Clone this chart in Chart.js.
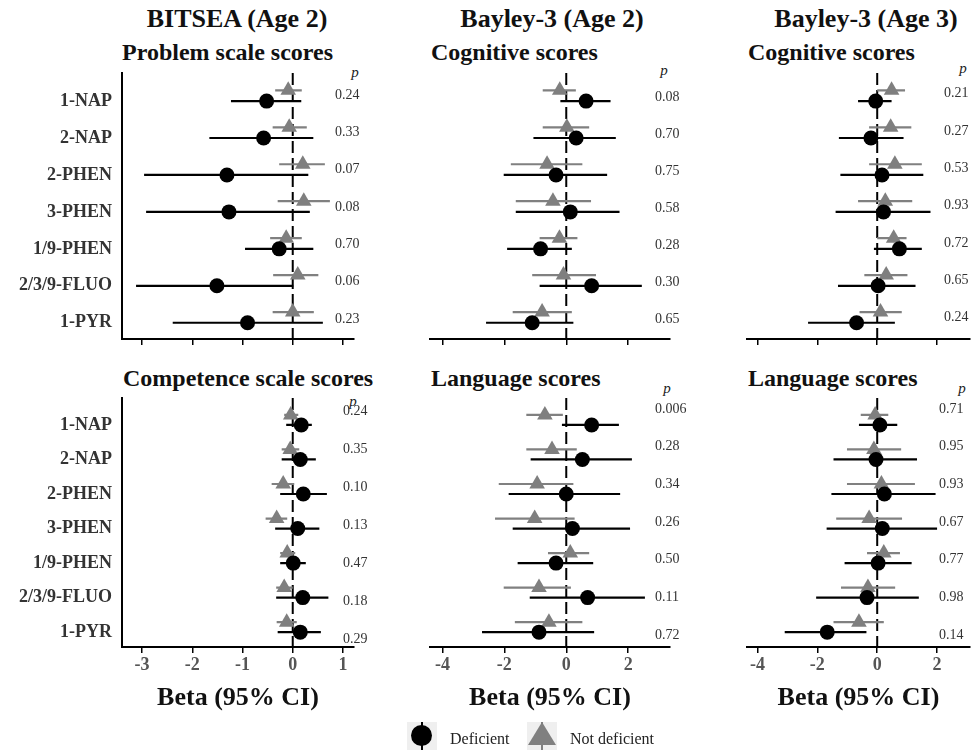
<!DOCTYPE html>
<html>
<head>
<meta charset="utf-8">
<script src="https://cdn.jsdelivr.net/npm/chart.js@4.4.1/dist/chart.umd.min.js"></script>
<style>
  html, body { margin:0; padding:0; background:#fff; }
  body { width:979px; height:752px; overflow:hidden; position:relative; font-family:"Liberation Serif","Times New Roman",serif; }
  canvas.c { position:absolute; left:0; top:0; }
  .h { position:absolute; font-weight:bold; font-size:26px; line-height:26px; white-space:nowrap; color:#111; transform:translateX(-50%); }
  .s { position:absolute; font-weight:bold; font-size:24px; line-height:24px; white-space:nowrap; color:#111; }
  .ph { position:absolute; font-style:italic; font-size:15px; line-height:15px; color:#222; transform:translate(-50%,-50%); }
  .lg { position:absolute; font-size:16px; line-height:16px; color:#222; white-space:nowrap; }
  .abs { position:absolute; }
</style>
</head>
<body>
<div class="h" style="left:237px;top:6px">BITSEA (Age 2)</div>
<div class="h" style="left:552px;top:6px">Bayley-3 (Age 2)</div>
<div class="h" style="left:866px;top:6px">Bayley-3 (Age 3)</div>

<div class="s" style="left:122px;top:40px">Problem scale scores</div>
<div class="s" style="left:431px;top:40px">Cognitive scores</div>
<div class="s" style="left:748px;top:40px">Cognitive scores</div>
<div class="s" style="left:123px;top:366px">Competence scale scores</div>
<div class="s" style="left:431px;top:366px">Language scores</div>
<div class="s" style="left:748px;top:366px">Language scores</div>

<div class="ph" style="left:355px;top:72px">p</div>
<div class="ph" style="left:664px;top:70px">p</div>
<div class="ph" style="left:963px;top:68px">p</div>
<div class="ph" style="left:353px;top:401px">p</div>
<div class="ph" style="left:667px;top:388px">p</div>
<div class="ph" style="left:962px;top:388px">p</div>

<canvas class="c" id="c1" width="979" height="752"></canvas>
<canvas class="c" id="c2" width="979" height="752"></canvas>
<canvas class="c" id="c3" width="979" height="752"></canvas>
<canvas class="c" id="c4" width="979" height="752"></canvas>
<canvas class="c" id="c5" width="979" height="752"></canvas>
<canvas class="c" id="c6" width="979" height="752"></canvas>

<!-- legend -->
<div class="abs" style="left:407px;top:722px;width:30px;height:28px;background:#efefef"></div>
<div class="abs" style="left:421px;top:722px;width:2px;height:28px;background:#000"></div>
<div class="abs" style="left:411px;top:725px;width:21px;height:21px;border-radius:50%;background:#000"></div>
<div class="lg" style="left:450px;top:731px">Deficient</div>
<div class="abs" style="left:527px;top:722px;width:30px;height:28px;background:#efefef"></div>
<div class="abs" style="left:541px;top:722px;width:2px;height:28px;background:#808080"></div>
<div class="abs" style="left:528px;top:722px;width:0;height:0;border-left:14px solid transparent;border-right:14px solid transparent;border-bottom:23px solid #808080"></div>
<div class="lg" style="left:570px;top:731px">Not deficient</div>

<script>
// ---------------- DATA ----------------
const categories = ['1-NAP','2-NAP','2-PHEN','3-PHEN','1/9-PHEN','2/3/9-FLUO','1-PYR'];

// BITSEA (Age 2) - Problem scale scores
const probDef   = [-0.52,-0.58,-1.31,-1.27,-0.27,-1.51,-0.90];
const probDefLo = [-1.23,-1.66,-2.96,-2.92,-0.95,-3.12,-2.39];
const probDefHi = [ 0.17, 0.41, 0.31, 0.34, 0.41, 0.01, 0.60];
const probNd    = [-0.09,-0.07, 0.20, 0.22,-0.13, 0.10, 0.00];
const probNdLo  = [-0.35,-0.40,-0.27,-0.30,-0.45,-0.39,-0.40];
const probNdHi  = [ 0.18, 0.28, 0.64, 0.74, 0.18, 0.51, 0.42];
const probP     = ['0.24','0.33','0.07','0.08','0.70','0.06','0.23'];

// Bayley-3 (Age 2) - Cognitive scores
const cog2Def   = [ 0.64, 0.32,-0.33, 0.13,-0.83, 0.82,-1.10];
const cog2DefLo = [-0.19,-1.06,-2.02,-1.63,-1.91,-0.86,-2.59];
const cog2DefHi = [ 1.43, 1.60, 1.32, 1.72, 0.18, 2.44, 0.23];
const cog2Nd    = [-0.21, 0.02,-0.62,-0.43,-0.22,-0.09,-0.78];
const cog2NdLo  = [-0.76,-0.76,-1.79,-1.63,-0.86,-1.10,-1.73];
const cog2NdHi  = [ 0.31, 0.74, 0.52, 0.80, 0.36, 0.96, 0.18];
const cog2P     = ['0.08','0.70','0.75','0.58','0.28','0.30','0.65'];

// Bayley-3 (Age 3) - Cognitive scores
const cog3Def   = [-0.05,-0.21, 0.16, 0.21, 0.74, 0.03,-0.69];
const cog3DefLo = [-0.64,-1.28,-1.23,-1.39,-0.11,-1.31,-2.31];
const cog3DefHi = [ 0.48, 0.88, 1.54, 1.78, 1.49, 1.28, 0.59];
const cog3Nd    = [ 0.48, 0.45, 0.59, 0.27, 0.55, 0.30, 0.11];
const cog3NdLo  = [ 0.00,-0.27,-0.27,-0.64, 0.00,-0.43,-0.59];
const cog3NdHi  = [ 0.93, 1.14, 1.49, 1.17, 0.98, 1.01, 0.82];
const cog3P     = ['0.21','0.27','0.53','0.93','0.72','0.65','0.24'];

// BITSEA (Age 2) - Competence scale scores
const compDef   = [ 0.17, 0.15, 0.21, 0.10, 0.01, 0.20, 0.15];
const compDefLo = [-0.13,-0.22,-0.25,-0.35,-0.25,-0.33,-0.30];
const compDefHi = [ 0.38, 0.46, 0.68, 0.53, 0.26, 0.71, 0.56];
const compNd    = [-0.04,-0.05,-0.19,-0.32,-0.11,-0.17,-0.12];
const compNdLo  = [-0.17,-0.22,-0.42,-0.54,-0.25,-0.33,-0.32];
const compNdHi  = [ 0.11, 0.13, 0.03,-0.11, 0.05, 0.00, 0.08];
const compP     = ['0.24','0.35','0.10','0.13','0.47','0.18','0.29'];

// Bayley-3 (Age 2) - Language scores
const lang2Def   = [ 0.82, 0.52, 0.00, 0.20,-0.33, 0.69,-0.88];
const lang2DefLo = [-0.14,-1.15,-1.86,-1.73,-1.57,-1.18,-2.72];
const lang2DefHi = [ 1.70, 2.12, 1.74, 2.06, 0.87, 2.54, 0.90];
const lang2Nd    = [-0.69,-0.46,-0.94,-1.02, 0.13,-0.88,-0.56];
const lang2NdLo  = [-1.29,-1.29,-2.18,-2.30,-0.59,-2.02,-1.66];
const lang2NdHi  = [-0.11, 0.34, 0.23, 0.27, 0.74, 0.15, 0.52];
const lang2P     = ['0.006','0.28','0.34','0.26','0.50','0.11','0.72'];

// Bayley-3 (Age 3) - Language scores
const lang3Def   = [ 0.09,-0.04, 0.24, 0.17, 0.03,-0.34,-1.67];
const lang3DefLo = [-0.61,-1.46,-1.53,-1.69,-1.09,-2.04,-3.09];
const lang3DefHi = [ 0.67, 1.33, 1.95, 2.00, 1.15, 1.39,-0.36];
const lang3Nd    = [-0.07,-0.11, 0.14,-0.27, 0.22,-0.31,-0.61];
const lang3NdLo  = [-0.55,-1.01,-1.01,-1.37,-0.34,-1.21,-1.46];
const lang3NdHi  = [ 0.37, 0.80, 1.26, 0.83, 0.76, 0.60, 0.22];
const lang3P     = ['0.71','0.95','0.93','0.67','0.77','0.98','0.14'];

const ticksBitsea = [-3,-2,-1,0,1];
const ticksBayley = [-4,-2,0,2];

// ---------------- RENDER ----------------
const FONT = '"Liberation Serif", "Times New Roman", serif';
const ND_SHIFT = 0.29;   // vertical offset of the "not deficient" row (style)

const pvalPlugin = {
  id: 'pvals',
  afterDraw(chart, args, o) {
    if (!o || !o.labels) return;
    const {ctx, chartArea} = chart;
    const y = chart.scales.y;
    ctx.save();
    ctx.font = '14px ' + FONT;
    ctx.fillStyle = '#333';
    ctx.textAlign = 'left';
    ctx.textBaseline = 'middle';
    o.labels.forEach((t, i) => {
      ctx.fillText(t, chartArea.right + o.dx, y.getPixelForValue(i + 1 + o.a + o.b * i));
    });
    ctx.restore();
  }
};

function ciData(lo, hi, shift) {
  const out = [];
  lo.forEach((l, i) => {
    out.push({x: l, y: i + 1 - shift});
    out.push({x: hi[i], y: i + 1 - shift});
    out.push({x: NaN, y: NaN});
  });
  return out;
}
function ptData(v, shift) { return v.map((x, i) => ({x, y: i + 1 - shift})); }

function makePanel(id, c) {
  const W = 979, H = 752;
  const xH = c.xLabels ? 67 : 20;
  const yMin = c.yMin, yMax = c.yMax;
  new Chart(document.getElementById(id), {
    type: 'scatter',
    data: {
      datasets: [
        { data: ptData(c.def, 0), pointStyle: 'circle', pointRadius: 7.5, pointBackgroundColor: '#000', pointBorderWidth: 0, order: 0 },
        { data: ptData(c.nd, ND_SHIFT), pointStyle: 'triangle', pointRadius: 9, pointBackgroundColor: '#7f7f7f', pointBorderWidth: 0, order: 1 },
        { data: ciData(c.defLo, c.defHi, 0), showLine: true, spanGaps: false, borderColor: '#000', borderWidth: 2.2, pointRadius: 0, order: 2 },
        { data: ciData(c.ndLo, c.ndHi, ND_SHIFT), showLine: true, spanGaps: false, borderColor: '#808080', borderWidth: 2.2, pointRadius: 0, order: 3 },
        { data: [{x: 0, y: yMin}, {x: 0, y: yMax}], showLine: true, borderColor: '#000', borderWidth: 2, borderDash: [12, 5], pointRadius: 0, order: 4 }
      ]
    },
    plugins: [pvalPlugin],
    options: {
      responsive: false, animation: false, events: [], devicePixelRatio: 1,
      layout: { padding: { left: c.yLabels ? 0 : c.left, right: W - c.right, top: c.top, bottom: H - c.bottom - xH } },
      plugins: {
        legend: { display: false }, tooltip: { enabled: false },
        pvals: { labels: c.p, dx: c.pdx, a: c.pa, b: c.pb }
      },
      scales: {
        x: {
          type: 'linear', min: c.xMin, max: c.xMax,
          afterBuildTicks: s => { s.ticks = c.ticks.map(v => ({value: v})); },
          afterFit: s => { s.height = xH; },
          grid: { drawOnChartArea: false, drawTicks: true, tickLength: 6, color: '#000', lineWidth: 1.5 },
          border: { display: true, color: '#000', width: 2 },
          ticks: { autoSkip: false, maxRotation: 0, padding: 2,
                   color: c.xLabels ? '#555' : 'rgba(0,0,0,0)',
                   font: { family: FONT, size: 18, weight: 'bold' },
                   callback: v => String(v) },
          title: { display: c.xLabels, text: 'Beta (95% CI)', color: '#111',
                   font: { family: FONT, size: 26, weight: 'bold' }, padding: { top: 0, bottom: 0 } }
        },
        y: {
          type: 'linear', reverse: true, min: yMin, max: yMax, display: c.yLabels,
          afterBuildTicks: s => { s.ticks = categories.map((_, i) => ({value: i + 1})); },
          afterFit: s => { if (c.yLabels) s.width = c.left; },
          grid: { drawOnChartArea: false, drawTicks: false },
          border: { display: true, color: '#000', width: 2 },
          ticks: { autoSkip: false, padding: 10, color: '#333',
                   font: { family: FONT, size: 18, weight: 'bold' },
                   callback: v => categories[Math.round(v) - 1] }
        }
      }
    }
  });
}

const TOP = { top: 73, bottom: 339, yMin: 0.24, yMax: 7.44, xLabels: false };
const BOT = { top: 398, bottom: 647, yMin: 0.22, yMax: 7.43, xLabels: true };
const P1 = { left: 122, right: 354, xMin: -3.4, xMax: 1.22, ticks: ticksBitsea, yLabels: true };
const P2 = { left: 430, right: 670, xMin: -4.4, xMax: 3.35, ticks: ticksBayley, yLabels: false };
const P3 = { left: 747, right: 979, xMin: -4.35, xMax: 3.1, ticks: ticksBayley, yLabels: false };

makePanel('c1', Object.assign({}, TOP, P1, { def: probDef, defLo: probDefLo, defHi: probDefHi, nd: probNd, ndLo: probNdLo, ndHi: probNdHi, p: probP, pdx: -19, pa: -0.16, pb: 0.01 }));
makePanel('c2', Object.assign({}, TOP, P2, { def: cog2Def, defLo: cog2DefLo, defHi: cog2DefHi, nd: cog2Nd, ndLo: cog2NdLo, ndHi: cog2NdHi, p: cog2P, pdx: -15, pa: -0.1, pb: 0 }));
makePanel('c3', Object.assign({}, TOP, P3, { def: cog3Def, defLo: cog3DefLo, defHi: cog3DefHi, nd: cog3Nd, ndLo: cog3NdLo, ndHi: cog3NdHi, p: cog3P, pdx: -26, pa: -0.2, pb: 0.01 }));
makePanel('c4', Object.assign({}, BOT, P1, { def: compDef, defLo: compDefLo, defHi: compDefHi, nd: compNd, ndLo: compNdLo, ndHi: compNdHi, p: compP, pdx: -11, pa: -0.38, pb: 0.097 }));
makePanel('c5', Object.assign({}, BOT, P2, { def: lang2Def, defLo: lang2DefLo, defHi: lang2DefHi, nd: lang2Nd, ndLo: lang2NdLo, ndHi: lang2NdHi, p: lang2P, pdx: -15, pa: -0.46, pb: 0.09 }));
makePanel('c6', Object.assign({}, BOT, P3, { def: lang3Def, defLo: lang3DefLo, defHi: lang3DefHi, nd: lang3Nd, ndLo: lang3NdLo, ndHi: lang3NdHi, p: lang3P, pdx: -31, pa: -0.46, pb: 0.09 }));
</script>
</body>
</html>
